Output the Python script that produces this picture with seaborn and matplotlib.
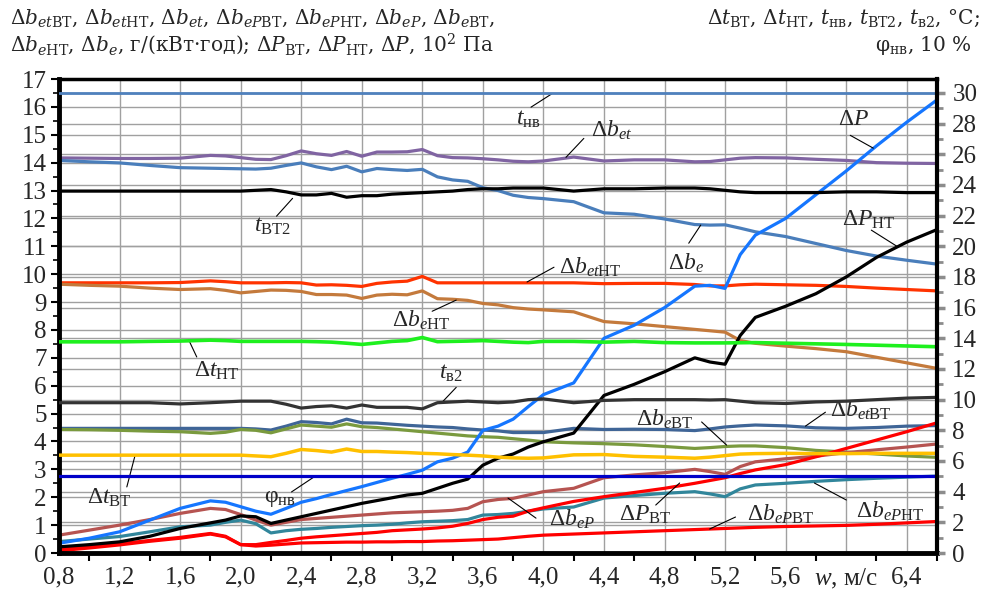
import numpy as np
import matplotlib
matplotlib.use("Agg")
import matplotlib.pyplot as plt
import seaborn as sns

# ---------------- data ----------------
W = [0.8, 1.0, 1.2, 1.4, 1.6, 1.8, 1.9, 2.0, 2.1, 2.2, 2.3, 2.4, 2.5, 2.6, 2.7, 2.8, 2.9, 3.0, 3.1, 3.2,
     3.3, 3.4, 3.5, 3.6, 3.7, 3.8, 3.9, 4.0, 4.2, 4.4, 4.6, 4.8, 5.0, 5.1, 5.2, 5.3, 5.4, 5.6, 5.8, 6.0,
     6.2, 6.4, 6.6]

# left axis: g/(kW*h) and 10^2 Pa
db_et = [14.17, 14.16, 14.15, 14.15, 14.16, 14.26, 14.24, 14.18, 14.12, 14.11, 14.25, 14.42, 14.32, 14.26,
         14.40, 14.23, 14.38, 14.38, 14.39, 14.47, 14.25, 14.18, 14.17, 14.14, 14.10, 14.05, 14.03, 14.06,
         14.20, 14.06, 14.10, 14.10, 14.03, 14.04, 14.10, 14.16, 14.18, 14.17, 14.12, 14.08, 14.00, 13.98, 13.97]
db_e = [14.08, 14.03, 13.99, 13.90, 13.82, 13.80, 13.79, 13.78, 13.77, 13.80, 13.90, 13.99, 13.85, 13.75,
        13.87, 13.67, 13.79, 13.75, 13.72, 13.76, 13.49, 13.38, 13.33, 13.10, 13.00, 12.83, 12.75, 12.71,
        12.60, 12.20, 12.15, 11.98, 11.78, 11.76, 11.77, 11.65, 11.52, 11.35, 11.10, 10.85, 10.65, 10.50, 10.36]
db_et_nt = [9.69, 9.69, 9.69, 9.69, 9.70, 9.76, 9.73, 9.69, 9.69, 9.69, 9.70, 9.69, 9.61, 9.62, 9.60, 9.56,
            9.67, 9.72, 9.75, 9.92, 9.69, 9.69, 9.69, 9.69, 9.69, 9.69, 9.69, 9.69, 9.69, 9.66, 9.67, 9.67,
            9.63, 9.58, 9.58, 9.62, 9.64, 9.62, 9.60, 9.56, 9.50, 9.45, 9.40]
db_e_nt = [9.64, 9.60, 9.57, 9.50, 9.45, 9.48, 9.42, 9.33, 9.38, 9.43, 9.42, 9.38, 9.27, 9.27, 9.25, 9.13,
           9.25, 9.28, 9.26, 9.40, 9.12, 9.10, 9.06, 8.95, 8.90, 8.80, 8.75, 8.72, 8.65, 8.30, 8.22, 8.12,
           8.02, 7.97, 7.92, 7.62, 7.52, 7.42, 7.33, 7.22, 7.02, 6.82, 6.62]
db_et_vt = [4.47, 4.47, 4.47, 4.47, 4.47, 4.47, 4.47, 4.47, 4.45, 4.41, 4.55, 4.71, 4.68, 4.63, 4.80, 4.67,
            4.66, 4.62, 4.58, 4.55, 4.52, 4.50, 4.45, 4.41, 4.38, 4.32, 4.32, 4.32, 4.47, 4.43, 4.44, 4.43,
            4.39, 4.45, 4.52, 4.56, 4.59, 4.56, 4.49, 4.47, 4.50, 4.55, 4.57]
db_e_vt = [4.43, 4.42, 4.40, 4.37, 4.35, 4.29, 4.33, 4.43, 4.40, 4.31, 4.45, 4.59, 4.55, 4.51, 4.63, 4.53,
           4.50, 4.45, 4.40, 4.35, 4.30, 4.25, 4.20, 4.17, 4.15, 4.10, 4.05, 3.99, 3.95, 3.92, 3.88, 3.82,
           3.75, 3.78, 3.82, 3.84, 3.84, 3.78, 3.68, 3.62, 3.55, 3.48, 3.43]
dP = [0.35, 0.53, 0.76, 1.18, 1.60, 1.87, 1.82, 1.66, 1.50, 1.39, 1.60, 1.82, 1.95, 2.10, 2.24, 2.38, 2.53,
      2.68, 2.82, 2.97, 3.27, 3.40, 3.62, 4.40, 4.55, 4.80, 5.25, 5.68, 6.10, 7.70, 8.17, 8.80, 9.57, 9.60,
      9.49, 10.70, 11.40, 12.00, 12.85, 13.70, 14.60, 15.45, 16.25]
dP_nt = [0.22, 0.30, 0.40, 0.60, 0.88, 1.08, 1.18, 1.33, 1.30, 1.06, 1.18, 1.30, 1.42, 1.54, 1.66, 1.78,
         1.88, 1.98, 2.08, 2.14, 2.32, 2.50, 2.65, 3.15, 3.40, 3.55, 3.80, 3.99, 4.30, 5.65, 6.05, 6.50,
         7.00, 6.85, 6.77, 7.80, 8.45, 8.85, 9.30, 9.90, 10.60, 11.15, 11.60]
dP_vt = [0.17, 0.25, 0.33, 0.45, 0.56, 0.70, 0.60, 0.30, 0.30, 0.38, 0.45, 0.53, 0.58, 0.62, 0.66, 0.70,
         0.74, 0.80, 0.83, 0.86, 0.90, 0.96, 1.06, 1.20, 1.28, 1.32, 1.50, 1.62, 1.85, 2.02, 2.17, 2.32,
         2.50, 2.60, 2.70, 2.85, 2.98, 3.17, 3.45, 3.75, 4.05, 4.35, 4.67]
db_eP_vt = [0.08, 0.18, 0.29, 0.42, 0.53, 0.68, 0.58, 0.30, 0.25, 0.28, 0.32, 0.36, 0.37, 0.38, 0.39, 0.39,
            0.40, 0.40, 0.41, 0.41, 0.43, 0.44, 0.46, 0.48, 0.50, 0.55, 0.60, 0.64, 0.68, 0.72, 0.76, 0.80,
            0.84, 0.86, 0.88, 0.90, 0.92, 0.95, 0.97, 0.99, 1.03, 1.08, 1.13]
db_eP = [0.64, 0.82, 1.00, 1.20, 1.42, 1.60, 1.56, 1.38, 1.18, 1.00, 1.10, 1.20, 1.24, 1.28, 1.32, 1.36,
         1.40, 1.44, 1.46, 1.48, 1.50, 1.53, 1.60, 1.84, 1.92, 1.96, 2.08, 2.20, 2.32, 2.70, 2.80, 2.88,
         3.00, 2.92, 2.82, 3.10, 3.27, 3.38, 3.47, 3.60, 3.70, 3.80, 3.91]
db_eP_nt = [0.41, 0.50, 0.59, 0.76, 0.94, 1.00, 1.10, 1.18, 1.05, 0.72, 0.80, 0.85, 0.88, 0.92, 0.95, 0.98,
            1.00, 1.03, 1.08, 1.12, 1.14, 1.16, 1.20, 1.36, 1.38, 1.42, 1.50, 1.58, 1.65, 1.97, 2.06, 2.14,
            2.20, 2.12, 2.02, 2.30, 2.44, 2.50, 2.57, 2.63, 2.68, 2.72, 2.76]

# right axis: deg C and 10 %
t_nv = [30.0] * len(W)
phi_nv = [5.0] * len(W)
t_vt2 = [23.6, 23.6, 23.6, 23.6, 23.6, 23.6, 23.6, 23.6, 23.65, 23.7, 23.55, 23.35, 23.35, 23.45, 23.2, 23.3,
         23.3, 23.4, 23.45, 23.5, 23.55, 23.6, 23.7, 23.75, 23.75, 23.8, 23.8, 23.8, 23.6, 23.75, 23.75, 23.8,
         23.8, 23.75, 23.65, 23.55, 23.5, 23.5, 23.5, 23.55, 23.55, 23.5, 23.5]
dt_nt = [13.77, 13.77, 13.77, 13.8, 13.82, 13.88, 13.85, 13.8, 13.8, 13.8, 13.8, 13.8, 13.78, 13.75, 13.68,
         13.6, 13.7, 13.8, 13.85, 14.05, 13.78, 13.8, 13.82, 13.85, 13.8, 13.75, 13.72, 13.8, 13.8, 13.75,
         13.8, 13.72, 13.7, 13.7, 13.7, 13.71, 13.72, 13.68, 13.64, 13.6, 13.55, 13.5, 13.45]
t_v2 = [9.8, 9.8, 9.8, 9.8, 9.72, 9.8, 9.85, 9.9, 9.9, 9.9, 9.7, 9.45, 9.55, 9.6, 9.45, 9.65, 9.5, 9.5, 9.5,
        9.4, 9.8, 9.85, 9.9, 9.85, 9.8, 9.85, 10.0, 10.05, 9.8, 9.95, 10.0, 10.0, 10.0, 9.98, 10.0, 9.9, 9.8,
        9.75, 9.85, 9.9, 10.0, 10.1, 10.15]
dt_vt = [6.38, 6.38, 6.38, 6.38, 6.38, 6.38, 6.38, 6.38, 6.33, 6.28, 6.5, 6.75, 6.68, 6.58, 6.78, 6.62,
         6.62, 6.58, 6.55, 6.5, 6.47, 6.42, 6.38, 6.33, 6.25, 6.2, 6.18, 6.2, 6.4, 6.42, 6.3, 6.25, 6.18,
         6.25, 6.35, 6.45, 6.48, 6.5, 6.48, 6.48, 6.5, 6.5, 6.5]

x_ticks = [0.8, 1.2, 1.6, 2.0, 2.4, 2.8, 3.2, 3.6, 4.0, 4.4, 4.8, 5.2, 5.6, 6.0, 6.4]
x_labels = ["0,8", "1,2", "1,6", "2,0", "2,4", "2,8", "3,2", "3,6", "4,0", "4,4", "4,8", "5,2", "5,6",
            "$w$, м/с", "6,4"]
left_ticks = list(range(0, 18))
right_ticks = list(range(0, 31, 2))

# ---------------- style ----------------
sns.set_style("white")
plt.rcParams["font.family"] = ["Liberation Serif", "DejaVu Serif"]
plt.rcParams["mathtext.fontset"] = "custom"
plt.rcParams["mathtext.rm"] = "Liberation Serif"
plt.rcParams["mathtext.it"] = "Liberation Serif:italic"
plt.rcParams["mathtext.bf"] = "Liberation Serif:bold"

XMAX = 6.6
Y1MAX = 17.0
Y2MAX = 17.0 * 30.0 / 16.5

fig = plt.figure(figsize=(9.86, 6.03), dpi=100)
ax = fig.add_axes([59 / 986, 50 / 603, 878 / 986, 474 / 603])
ax2 = ax.twinx()

LW = 2.3
left_series = [
    (db_et, "#8064a2"), (db_e, "#4a7ebb"), (db_et_nt, "#ff3300"), (db_e_nt, "#c47a3c"),
    (db_et_vt, "#3f6597"), (db_e_vt, "#7a9a3e"), (db_eP, "#b65451"), (db_eP_nt, "#31869b"),
    (db_eP_vt, "#ff0000"), (dP_vt, "#ff0000"), (dP_nt, "#000000"), (dP, "#1576ff"),
]
for vals, col in left_series:
    sns.lineplot(x=W, y=vals, ax=ax, color=col, lw=LW, legend=False, sort=False)

right_series = [
    (t_nv, "#4f81bd", 2.0), (t_vt2, "#000000", LW), (dt_nt, "#1ef01e", LW + 0.3), (t_v2, "#333333", LW),
    (dt_vt, "#ffc000", LW + 0.2), (phi_nv, "#0000c8", LW),
]
for vals, col, lw in right_series:
    sns.lineplot(x=W, y=vals, ax=ax2, color=col, lw=lw, legend=False, sort=False)

ax.set_xlim(0.8, XMAX)
ax.set_ylim(0, Y1MAX)
ax2.set_ylim(0, Y2MAX)
ax.set_xlabel("")
ax.set_ylabel("")
ax2.set_ylabel("")

# grids (both axes' grids drawn behind all lines)
ax.set_xticks(x_ticks)
ax.set_xticklabels(x_labels)
ax.set_xticks(np.arange(0.8, 6.61, 0.2), minor=True)
ax.set_yticks(left_ticks)
ax.set_yticks(np.arange(0.5, 17, 1.0), minor=True)
ax.grid(True, which="major", color="#a0a0a0", lw=1.0)
ax.hlines(np.array(right_ticks) * Y1MAX / Y2MAX, 0.8, XMAX, color="#a0a0a0", lw=1.0, zorder=0.8)
ax.set_axisbelow(True)

ax2.set_yticks(right_ticks)
ax2.set_yticks(np.arange(1, 31, 2), minor=True)
ax2.grid(False)

ax.tick_params(axis="both", which="major", labelsize=18, direction="out", length=6, width=1.5,
               color="black", pad=3)
ax.tick_params(axis="x", which="major", length=0, pad=10)
ax.tick_params(axis="x", which="minor", direction="out", length=6, width=1.5, color="black")
ax.tick_params(axis="y", which="minor", direction="out", length=4, width=1.2, color="black")
ax.tick_params(left=True, bottom=True)
ax.tick_params(axis="x", which="minor", bottom=True)
ax2.tick_params(axis="y", which="major", labelsize=18, direction="out", length=6, width=2.5,
                color="#8c8c8c", pad=5, right=True)
ax2.tick_params(axis="y", which="minor", direction="out", length=4, width=2.0, color="#8c8c8c", right=True)

for a in (ax, ax2):
    for s in a.spines.values():
        s.set_color("black")
ax.spines["left"].set_linewidth(3.5)
ax.spines["bottom"].set_linewidth(3.5)
ax.spines["top"].set_linewidth(2.5)
ax2.spines["right"].set_linewidth(3.0)
ax2.spines["left"].set_visible(False)
ax2.spines["bottom"].set_visible(False)
ax2.spines["top"].set_visible(False)
ax.spines["right"].set_visible(False)

# ---------------- headers ----------------
FS_HEAD = 14.5
HEAD = dict(fontsize=FS_HEAD, family="DejaVu Serif", math_fontfamily="dejavuserif")
fig.text(10 / 986, 1 - 24 / 603,
         r"$\Delta b_{et\mathrm{ВТ}}$, $\Delta b_{et\mathrm{НТ}}$, $\Delta b_{et}$, $\Delta b_{eP\mathrm{ВТ}}$, "
         r"$\Delta b_{eP\mathrm{НТ}}$, $\Delta b_{eP}$, $\Delta b_{e\mathrm{ВТ}}$,",
         ha="left", va="baseline", **HEAD)
fig.text(10 / 986, 1 - 51 / 603,
         r"$\Delta b_{e\mathrm{НТ}}$, $\Delta b_{e}$, г/(кВт·год); $\Delta P_{\mathrm{ВТ}}$, "
         r"$\Delta P_{\mathrm{НТ}}$, $\Delta P$, 10$^2$ Па",
         ha="left", va="baseline", **HEAD)
fig.text(980 / 986, 1 - 24 / 603,
         r"$\Delta t_{\mathrm{ВТ}}$, $\Delta t_{\mathrm{НТ}}$, $t_{\mathrm{нв}}$, $t_{\mathrm{ВТ2}}$, "
         r"$t_{\mathrm{в2}}$, °C;",
         ha="right", va="baseline", **HEAD)
fig.text(972 / 986, 1 - 51 / 603, r"φ$_{\mathrm{нв}}$, 10 %",
         ha="right", va="baseline", **HEAD)

# ---------------- in-plot labels with leader lines ----------------
FS_LAB = 17
labels = [
    (r"$t_{\mathrm{нв}}$", (3.90, 15.55), (3.918, 15.99), (4.056, 16.47)),
    (r"$\Delta b_{et}$", (4.45, 15.15), (4.267, 14.87), (4.149, 14.19)),
    (r"$\Delta P$", (6.05, 15.55), (6.027, 14.98), (6.179, 14.52)),
    (r"$\Delta P_{\mathrm{НТ}}$", (6.15, 11.95), (6.166, 11.58), (6.344, 10.97)),
    (r"$\Delta b_{e}$", (4.94, 10.40), (4.960, 11.11), (5.039, 11.76)),
    (r"$t_{\mathrm{ВТ2}}$", (2.21, 11.70), (2.237, 12.08), (2.343, 12.72)),
    (r"$\Delta b_{et\mathrm{НТ}}$", (4.31, 10.25), (4.070, 10.25), (3.892, 9.72)),
    (r"$\Delta b_{e\mathrm{НТ}}$", (3.19, 8.35), (3.265, 8.67), (3.424, 9.07)),
    (r"$\Delta t_{\mathrm{НТ}}$", (1.84, 6.52), (1.710, 7.03), (1.664, 7.56)),
    (r"$t_{\mathrm{в2}}$", (3.39, 6.45), (3.424, 5.94), (3.333, 5.42)),
    (r"$\Delta b_{e\mathrm{ВТ}}$", (4.80, 4.80), (5.045, 4.70), (5.210, 3.87)),
    (r"$\Delta b_{et\mathrm{ВТ}}$", (6.10, 5.10), (5.863, 5.05), (5.731, 4.55)),
    (r"$\Delta t_{\mathrm{ВТ}}$", (1.13, 1.97), (1.248, 2.37), (1.301, 3.47)),
    (r"φ$_{\mathrm{нв}}$", (2.26, 1.95), (2.336, 2.19), (2.488, 2.74)),
    (r"$\Delta b_{eP}$", (4.19, 1.20), (3.951, 1.25), (3.766, 1.97)),
    (r"$\Delta P_{\mathrm{ВТ}}$", (4.67, 1.37), (4.742, 1.72), (4.900, 2.51)),
    (r"$\Delta b_{eP\mathrm{ВТ}}$", (5.57, 1.40), (5.269, 1.29), (5.098, 0.86)),
    (r"$\Delta b_{eP\mathrm{НТ}}$", (6.29, 1.50), (6.001, 1.90), (5.790, 2.51)),
]
for txt, pos, a0, a1 in labels:
    ax.annotate("", xy=a1, xytext=a0,
                arrowprops=dict(arrowstyle="-", lw=0.8, color="black", shrinkA=0, shrinkB=0),
                zorder=5)
    ax.text(pos[0], pos[1], txt, ha="center", va="center", fontsize=FS_LAB, zorder=6)

fig.savefig("out.png", dpi=100)
